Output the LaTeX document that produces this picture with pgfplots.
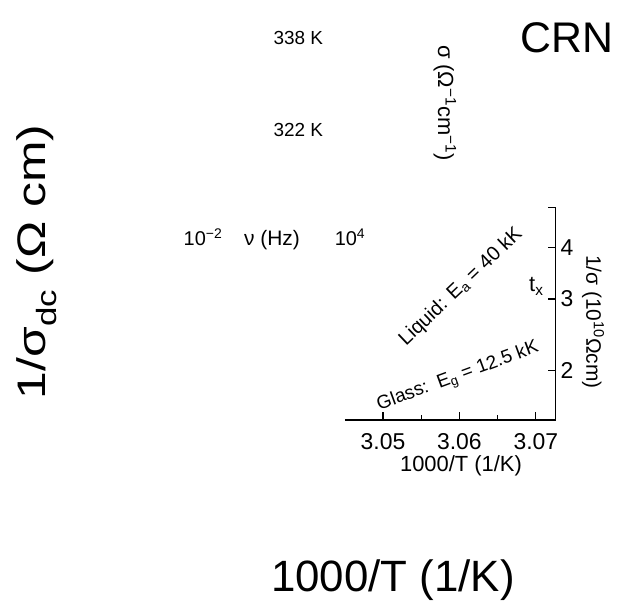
\documentclass[border=0pt]{standalone}
\usepackage{fontspec}
\setmainfont{Liberation Sans}
\usepackage{graphicx}
\usepackage{pgfplots}
\pgfplotsset{compat=1.18}
\usetikzlibrary{arrows.meta}
\newcommand{\fs}[1]{\fontsize{#1}{#1}\selectfont}
\begin{document}
\begin{tikzpicture}[x=1bp,y=1bp]
\path[use as bounding box] (0,0) rectangle (617,607);
% ---------------- free texts, inset-2 frame and ticks ----------------
\node[rotate=90, anchor=base, font=\fs{40}] at (45,345) {\scalebox{1.25}[1]{1/σ\textsubscript{dc} (Ω cm)}};
\node[anchor=base, font=\fs{44}] at (393,15) {1000/T (1/K)};
\node[anchor=base west, font=\fs{43}] at (517,554) {CRN};
\node[anchor=base west, font=\fs{19}] at (270,562) {338 K};
\node[anchor=base west, font=\fs{19}] at (270,470) {322 K};
\node[anchor=base, font=\fs{20}] at (203,361) {10\textsuperscript{−2}};
\node[anchor=base, font=\fs{20}] at (350,361) {10\textsuperscript{4}};
\node[anchor=base, font=\fs{21}] at (272,361) {ν (Hz)};
\node[rotate=-90, font=\fs{22}] at (445,504) {σ (Ω\textsuperscript{−1}cm\textsuperscript{−1})};
\node[anchor=base, font=\fs{22}] at (461,135) {1000/T (1/K)};
\node[rotate=-90, font=\fs{21}] at (593,285) {1/σ (10\textsuperscript{10}Ωcm)};
\node[rotate=43.6, font=\fs{20}] at (461,320) {Liquid: E\textsubscript{a} = 40 kK};
\node[rotate=20.2, font=\fs{19}] at (458,230) {Glass:\ \ E\textsubscript{g} = 12.5 kK};
\node[anchor=base west, font=\fs{22}, inner sep=0pt] at (529,315) {t\textsubscript{x}};
\draw[line width=1.4bp] (344.75,187) -- (555.75,187) -- (555.75,399.5);
\draw[line width=1.1bp] (555.75,236.1) -- (547.75,236.1);
\draw[line width=1.1bp] (555.75,308.0) -- (547.75,308.0);
\draw[line width=1.1bp] (555.75,359.6) -- (547.75,359.6);
\draw[line width=1.1bp] (555.75,399.5) -- (547.75,399.5);
\draw[line width=1.1bp] (383.0,187) -- (383.0,195);
\draw[line width=1.1bp] (459.4,187) -- (459.4,195);
\draw[line width=1.1bp] (535.9,187) -- (535.9,195);
\draw[line width=1.1bp] (421.2,187) -- (421.2,192);
\draw[line width=1.1bp] (497.6,187) -- (497.6,192);
\node[anchor=west, font=\fs{23}] at (557,236.1) {2};
\node[anchor=west, font=\fs{23}] at (557,308.0) {3};
\node[anchor=west, font=\fs{23}] at (557,359.6) {4};
\node[anchor=base, font=\fs{23}] at (383.0,157) {3.05};
\node[anchor=base, font=\fs{23}] at (459.4,157) {3.06};
\node[anchor=base, font=\fs{23}] at (535.9,157) {3.07};

% ---------------- main axis ----------------
\begin{axis}[
  at={(158,114)}, anchor=south west, scale only axis,
  width=464bp, height=484bp,
  xmin=2.9295, xmax=3.1184,
  ymode=log, ymin=2e8, ymax=1e12,
  axis line style={line width=2.4bp},
  tick align=inside, xtick pos=left, ytick pos=left,
  major tick length=12bp, minor tick length=7bp,
  every tick/.style={line width=1.8bp, black},
  xtick={2.95,3.00,3.05,3.10}, xticklabels={2.95,3.00,3.05,3.10},
  minor xtick={2.975,3.025,3.075},
  ytick={1e9,1e10,1e11,1e12},
  yticklabels={10\textsuperscript{9},10\textsuperscript{10},10\textsuperscript{11},},
  minor ytick={3e8,4e8,5e8,6e8,7e8,8e8,9e8,2e9,3e9,4e9,5e9,6e9,7e9,8e9,9e9,2e10,3e10,4e10,5e10,6e10,7e10,8e10,9e10,2e11,3e11,4e11,5e11,6e11,7e11,8e11,9e11},
  xticklabel style={font=\fs{36}, anchor=base, yshift=-39bp},
  yticklabel style={font=\fs{35}, xshift=-4bp},
]
\addplot[line width=1.1bp, black] coordinates {(2.9434,2.594e8) (3.1001,2.404e11)};
\addplot[only marks, mark=o, mark size=1.8bp, line width=0.5bp, black] coordinates {
(2.9400,2.17e8) (2.9420,2.50e8) (2.9440,2.58e8) (2.9460,2.98e8) (2.9480,3.10e8)
(2.9500,3.52e8) (2.9520,3.70e8) (2.9540,4.20e8) (2.9560,4.40e8) (2.9580,4.98e8)
(2.9600,5.25e8) (2.9620,5.95e8) (2.9640,6.25e8) (2.9660,7.05e8) (2.9680,7.45e8)
(2.9700,8.40e8) (2.9720,8.85e8) (2.9740,9.95e8) (2.9760,1.055e9) (2.9780,1.19e9)
(2.9800,1.255e9) (2.9820,1.41e9) (2.9840,1.50e9) (2.9860,1.68e9) (2.9880,1.78e9)
(2.9900,2.00e9) (2.9920,2.12e9) (2.9940,2.38e9) (2.9960,2.52e9) (2.9980,2.83e9)
(3.0000,3.00e9) (3.0020,3.36e9) (3.0040,3.57e9) (3.0060,3.99e9) (3.0080,4.25e9)
(3.0100,4.70e9) (3.0120,5.05e9)};
\addplot[only marks, mark=*, mark size=2.6bp, black] coordinates {
(2.9588,5.08e8) (2.9772,1.132e9) (2.9947,2.43e9) (3.0130,5.39e9)};
\addplot[densely dotted, line width=0.6bp, mark=o, mark size=1.8bp, mark options={solid}, black] coordinates {
(3.0130,5.39e9) (3.0166,6.081e9) (3.0202,6.839e9) (3.0237,7.709e9) (3.0264,8.433e9) (3.0282,8.933e9) (3.0296,9.376e9)};
\addplot[densely dotted, line width=0.6bp, mark=o, mark size=1.8bp, mark options={solid}, black] coordinates {
(3.0344,1.321e10) (3.0379,1.455e10) (3.0414,1.600e10) (3.0440,1.718e10) (3.0458,1.803e10) (3.0472,1.875e10)};
\addplot[densely dotted, line width=0.6bp, mark=o, mark size=1.8bp, mark options={solid}, black] coordinates {
(3.0521,2.825e10) (3.0557,3.105e10) (3.0594,3.420e10) (3.0621,3.673e10) (3.0640,3.846e10) (3.0654,3.999e10)};
\addplot[densely dotted, line width=0.6bp, mark=o, mark size=1.8bp, mark options={solid}, black] coordinates {
(3.0706,5.998e10) (3.0745,6.457e10) (3.0784,6.966e10) (3.0813,7.362e10) (3.0833,7.638e10) (3.0848,7.870e10)};
\addplot[densely dotted, line width=0.6bp, mark=o, mark size=1.8bp, mark options={solid}, black] coordinates {
(3.0900,1.321e11) (3.0939,1.393e11) (3.0977,1.469e11) (3.1006,1.528e11) (3.1025,1.570e11) (3.1040,1.603e11)};
\addplot[line width=3bp, smooth, black] coordinates {(3.0306,1.202e10) (3.0309,1.08e10) (3.0314,9.77e9)};
\addplot[line width=3bp, smooth, black] coordinates {(3.0481,2.57e10) (3.0484,2.23e10) (3.0489,1.94e10)};
\addplot[line width=3bp, smooth, black] coordinates {(3.0664,5.57e10) (3.0667,4.80e10) (3.0672,4.13e10)};
\addplot[line width=3bp, smooth, black] coordinates {(3.0859,1.253e11) (3.0862,1.00e11) (3.0867,8.07e10)};
\addplot[line width=3bp, smooth, black] coordinates {(3.1051,2.535e11) (3.1054,2.03e11) (3.1059,1.633e11)};
\end{axis}

% ---------------- inset 1: sigma vs nu ----------------
\begin{axis}[
  at={(173,400)}, anchor=south west, scale only axis,
  width=186bp, height=192bp,
  xmode=log, ymode=log,
  xmin=1e-3, xmax=18621, ymin=3.02e-12, ymax=5.13e-9,
  axis line style={line width=1.4bp},
  tick align=inside, tick pos=both,
  major tick length=7bp,
  every tick/.style={line width=1.1bp, black},
  xtick={1e-2,1e-1,1,10,100,1e3,1e4}, xticklabels={},
  minor xtick={}, minor ytick={},
  ytick={1e-11,1e-10,1e-9}, yticklabel pos=right,
  yticklabels={10\textsuperscript{−11},10\textsuperscript{−10},10\textsuperscript{−9}},
  yticklabel style={font=\fs{20}},
]
\addplot[smooth, line width=1bp, black] coordinates {
(9.33e-3,8.57e-10) (0.1,8.57e-10) (1,8.57e-10) (12.3,8.6e-10) (87.1,9.62e-10) (398,1.17e-9) (1698,1.74e-9) (7762,3.16e-9) (17378,4.68e-9)};
\addplot[smooth, line width=1bp, black] coordinates {
(1.86e-3,6.2e-12) (0.0676,6.0e-12) (0.759,6.2e-12) (4.57,7.94e-12) (19.1,1.12e-11) (87.1,1.66e-11) (398,3.09e-11) (1698,6.61e-11) (9120,1.95e-10)};
\draw[densely dashed, line width=0.9bp, {Stealth[length=5bp]}-{Stealth[length=5bp]}] (axis cs:0.1,2.82e-10) -- (axis cs:0.1,1.12e-11);
\end{axis}
\end{tikzpicture}
\end{document}
